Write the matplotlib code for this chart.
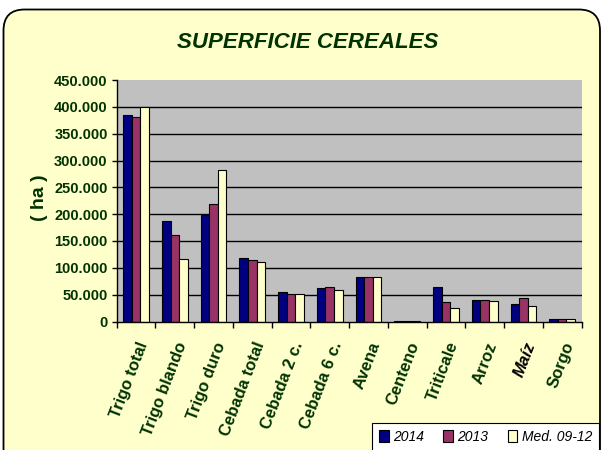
import numpy as np
import matplotlib.pyplot as plt
from matplotlib import font_manager
from matplotlib.patches import FancyBboxPatch, Patch
from matplotlib.ticker import FuncFormatter, FixedLocator
import matplotlib.transforms as mtransforms

# -------- datos --------
cultivos = ["Trigo total", "Trigo blando", "Trigo duro", "Cebada total", "Cebada 2 c.",
            "Cebada 6 c.", "Avena", "Centeno", "Triticale", "Arroz", "Maíz", "Sorgo"]
sup_2014 = [385000, 187500, 198000, 118800, 55600, 62500, 82500, 1300, 64400, 40600, 32500, 4400]
sup_2013 = [381000, 160600, 219000, 114400, 50600, 63800, 82500, 1100, 36900, 39400, 43000, 4400]
sup_med = [399000, 116900, 282500, 110600, 51900, 59400, 83800, 1100, 25000, 38800, 29400, 3800]
series = ["2014", "2013", "Med. 09-12"]

verde = '#003300'
colores = ['#000080', '#993366', '#FFFFCC']

nombres = {f.name for f in font_manager.fontManager.ttflist}
fuente_tit = 'Liberation Sans Narrow' if 'Liberation Sans Narrow' in nombres else 'Liberation Sans'
plt.rcParams['font.family'] = ['Liberation Sans', 'DejaVu Sans']

fig = plt.figure(figsize=(6.02, 4.5), dpi=100)
fig.patch.set_facecolor('white')

# marco redondeado de fondo
W, H = 602, 450
marco = FancyBboxPatch((3.5 / W, -0.1), (600 - 3.5) / W, 1.1 - 9.5 / H,
                       boxstyle="round,pad=0,rounding_size=0.035",
                       transform=fig.transFigure, facecolor='#FFFFCC',
                       edgecolor='black', linewidth=1.3, zorder=-5,
                       mutation_aspect=W / H)
fig.patches.append(marco)

ax = fig.add_axes([116.7 / W, 1 - 321.5 / H, 464.8 / W, 241.5 / H], zorder=2)
ax.set_facecolor('#C0C0C0')

x = np.arange(len(cultivos))
w = 0.222
for k, (vals, lab) in enumerate(zip([sup_2014, sup_2013, sup_med], series)):
    ax.bar(x + (k - 1) * w, vals, width=w, color=colores[k], edgecolor='black',
           linewidth=0.8, label=lab, zorder=3)

ax.set_xlim(-0.5, len(cultivos) - 0.5)
ax.set_ylim(0, 450000)
ax.set_yticks(np.arange(0, 450001, 50000))
ax.yaxis.set_major_formatter(FuncFormatter(lambda v, p: f"{int(v):,}".replace(",", ".")))
for v in range(50000, 450000, 50000):
    ax.axhline(v, color='black', linewidth=1, zorder=1)

for s in ['top', 'right']:
    ax.spines[s].set_visible(False)
ax.spines['left'].set_linewidth(1)
ax.spines['bottom'].set_linewidth(1)
ax.spines['bottom'].set_zorder(4)

ax.tick_params(axis='y', length=3.5, width=1, pad=3, labelsize=10.5, labelcolor=verde)
for t in ax.get_yticklabels():
    t.set_fontweight('bold')

# ticks del eje x en los limites de grupo, etiquetas en el centro
ax.xaxis.set_major_locator(FixedLocator(np.arange(-0.5, len(cultivos), 1)))
ax.xaxis.set_minor_locator(FixedLocator(x))
ax.tick_params(axis='x', which='major', length=4, width=1, labelbottom=False)
ax.tick_params(axis='x', which='minor', length=0, pad=0)
ax.set_xticks(x, cultivos, minor=True)
desplaza = mtransforms.ScaledTranslation(8 / 100, -21 / 100, fig.dpi_scale_trans)
for t in ax.xaxis.get_minorticklabels():
    t.set_rotation(69)
    t.set_rotation_mode('anchor')
    t.set_ha('right')
    t.set_va('center')
    t.set_fontsize(12)
    t.set_fontweight('bold')
    t.set_color(verde)
    t.set_transform(t.get_transform() + desplaza)
    if t.get_text() == 'Maíz':
        t.set_color('black')
        t.set_fontstyle('italic')

ax.set_ylabel('( ha )', fontsize=14, fontweight='bold', color=verde)
ax.yaxis.set_label_coords(48 / W, 1 - 198 / H, transform=fig.transFigure)

fig.text(308 / W, 1 - 42 / H, 'SUPERFICIE CEREALES', ha='center', va='center',
         fontsize=16, fontweight='bold', fontstyle='italic', color=verde, family=fuente_tit)

manejadores = [Patch(facecolor=c, edgecolor='black', linewidth=0.8) for c in colores]
leg = fig.legend(manejadores, series, loc='upper left', bbox_to_anchor=(372 / W, 1 - 423 / H),
                 ncol=3, frameon=True, fancybox=False, edgecolor='black', facecolor='white',
                 framealpha=1, handlelength=0.7, handleheight=0.9, handletextpad=0.3,
                 columnspacing=1.4, borderpad=0.5, borderaxespad=0,
                 prop={'size': 10, 'style': 'italic'})
leg.get_frame().set_linewidth(0.8)

fig.savefig("out.png", dpi=100)
